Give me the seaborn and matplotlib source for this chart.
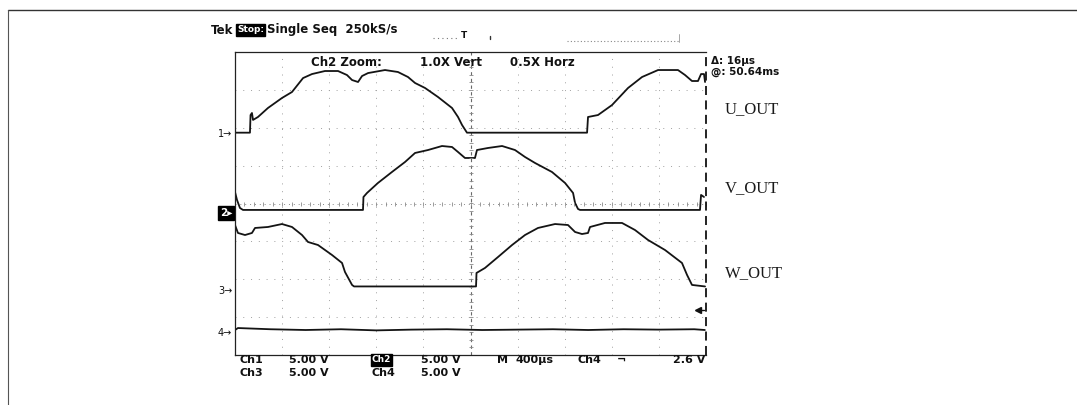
import numpy as np
import pandas as pd
import matplotlib
matplotlib.use("Agg")
import matplotlib.pyplot as plt
import seaborn as sns
from matplotlib.lines import Line2D
from matplotlib.transforms import blended_transform_factory

# ---- scope settings -------------------------------------------------------
US_PER_DIV = 400.0          # M 400us
VOLTS_PER_DIV = 5.0         # 5.00 V/div on all channels
N_HDIV, N_VDIV = 10, 8

# ---- captured waveforms (time in us, amplitude in V) ----------------------
t_u = [0, 127, 132, 144, 153, 195, 280, 399, 484, 578, 654, 764, 875, 951, 994,
       1045, 1079, 1130, 1274, 1384, 1469, 1529, 1614, 1724, 1843, 1894, 1928,
       1970, 2990, 2998, 3083, 3202, 3338, 3457, 3593, 3762, 3822, 3881, 3932,
       3958, 3983, 3992]
v_u = [0, 0, 2.33, 2.6, 1.68, 2.07, 3.26, 4.58, 5.37, 7.21, 7.74, 8.14, 8.14,
       7.61, 6.95, 6.69, 7.48, 7.87, 8.27, 8.01, 7.35, 6.56, 5.90, 4.71, 3.26,
       2.07, 1.02, 0, 0, 2.07, 2.33, 3.65, 5.90, 7.35, 8.27, 8.27, 7.61, 6.82,
       6.82, 7.74, 7.74, 6.69]

t_v = [0, 17, 42, 68, 1087, 1091, 1121, 1214, 1333, 1444, 1529, 1639, 1758,
       1843, 1894, 1953, 2038, 2055, 2149, 2268, 2378, 2463, 2548, 2692, 2803,
       2871, 2888, 2913, 2930, 3949, 3958, 3983]
v_v = [2.37, 1.32, 0.26, 0, 0, 1.71, 2.24, 3.56, 5.01, 6.33, 7.52, 7.91, 8.44,
       8.31, 7.65, 6.86, 6.86, 7.91, 8.18, 8.44, 7.91, 6.99, 6.20, 5.01, 3.56,
       2.24, 0.92, 0.13, 0, 0, 1.98, 1.71]

t_w = [0, 25, 85, 144, 170, 280, 399, 484, 569, 620, 705, 824, 909, 934, 994,
       1011, 2047, 2051, 2123, 2234, 2353, 2463, 2573, 2718, 2828, 2888, 2947,
       2998, 3015, 3142, 3287, 3397, 3508, 3652, 3796, 3839, 3881, 3992]
v_w = [8.11, 7.06, 6.79, 7.06, 7.72, 7.85, 8.24, 7.85, 6.79, 5.87, 5.47, 4.15,
       3.10, 1.91, 0.20, 0, 0, 1.78, 2.44, 3.89, 5.47, 6.79, 7.72, 8.24, 8.11,
       7.19, 6.92, 7.06, 7.85, 8.38, 8.38, 7.45, 6.13, 4.81, 3.10, 1.52, 0.20, 0]

t_4 = [0, 25, 300, 600, 900, 1200, 1500, 1800, 2100, 2400, 2700, 3000, 3300,
       3600, 3900, 3990]
v_4 = [0.0, 0.26, 0.1, 0.0, 0.1, -0.05, 0.05, 0.1, 0.0, 0.05, 0.1, 0.0, 0.1,
       0.05, 0.1, 0.0]

channels = ["Ch1", "Ch2", "Ch3", "Ch4"]
trace_names = ["U_OUT", "V_OUT", "W_OUT"]
# channel ground positions on screen (divisions from centre)
ch_offset = {"Ch1": 1.87, "Ch2": -0.17, "Ch3": -2.19, "Ch4": -3.34}
ch_marker = {"Ch1": 1.83, "Ch2": -0.25, "Ch3": -2.31, "Ch4": -3.42}
trig_level_v = 2.6

frames = []
for ch, t, v in zip(channels, [t_u, t_v, t_w, t_4], [v_u, v_v, v_w, v_4]):
    frames.append(pd.DataFrame({"t": t, "volts": v, "channel": ch}))
df = pd.concat(frames, ignore_index=True)
df["div"] = df["channel"].map(ch_offset) + df["volts"] / VOLTS_PER_DIV

# ---- figure ----------------------------------------------------------------
sns.set_theme(style="white")
plt.rcParams["font.family"] = ["DejaVu Sans"]

W, H = 1077, 405
fig = plt.figure(figsize=(W / 100, H / 100), dpi=100)
fig.patch.set_facecolor("white")


def fx(px):
    return px / W


def fy(py):
    return 1 - py / H


L, R, T, B = 235, 706, 52, 355
ax = fig.add_axes([fx(L), fy(B), (R - L) / W, (B - T) / H])
ax.set_facecolor("white")

sns.lineplot(data=df, x="t", y="div", units="channel", estimator=None,
             sort=False, color="#141414", lw=1.3, ax=ax, legend=False)

x_max = US_PER_DIV * N_HDIV
ax.set_xlim(0, x_max)
ax.set_ylim(-N_VDIV / 2, N_VDIV / 2)
ax.set_xticks([])
ax.set_yticks([])
ax.set_xlabel("")
ax.set_ylabel("")

# graticule
for i in range(1, N_HDIV):
    if i == N_HDIV // 2:
        continue
    ax.axvline(i * US_PER_DIV, color="#a0a0a0", lw=0.7, ls=(0, (1, 7)), zorder=0)
for j in range(-3, 4):
    if j == 0:
        continue
    ax.axhline(j, color="#a0a0a0", lw=0.7, ls=(0, (1, 7)), zorder=0)
ax.axvline(x_max / 2, color="#6a6a6a", lw=0.8, ls=(0, (3, 3)), zorder=0)
ax.axhline(0, color="#8a8a8a", lw=0.7, ls=(0, (1, 4)), zorder=0)
mt = np.arange(0, x_max + 1, US_PER_DIV / 5)
ax.plot(mt, np.zeros_like(mt), ls="none", marker="|", ms=3, color="#8a8a8a", mew=0.6)
mv = np.arange(-4, 4.01, 0.2)
ax.plot(np.full_like(mv, x_max / 2), mv, ls="none", marker="_", ms=3,
        color="#8a8a8a", mew=0.6)

for side in ["top", "left", "bottom"]:
    ax.spines[side].set_color("#222222")
    ax.spines[side].set_linewidth(0.9)
ax.spines["right"].set_visible(False)
ax.axvline(x_max, color="#111111", lw=1.3, ls=(0, (5, 3)), clip_on=False)

# trigger level marker (Ch4, 2.6 V)
lvl = ch_offset["Ch4"] + trig_level_v / VOLTS_PER_DIV
ax.plot([3935, 3980], [lvl, lvl], color="#111111", lw=1.0)
ax.plot([3935], [lvl], marker="<", ms=4, color="#111111")

# channel ground markers
trans = blended_transform_factory(ax.transAxes, ax.transData)
for ch in channels:
    num = ch[-1]
    if ch == "Ch2":
        ax.text(-0.006, ch_marker[ch], num + "\u25B8", transform=trans, ha="right",
                va="center", fontsize=7.5, color="white", fontweight="bold",
                bbox=dict(boxstyle="square,pad=0.15", fc="black", ec="black"))
    else:
        ax.text(-0.006, ch_marker[ch], num + "\u2192", transform=trans, ha="right",
                va="center", fontsize=7, color="#111111")

# ---- annotations -----------------------------------------------------------
tek = dict(fontsize=8.5, fontweight="bold", color="#111111", va="center")
small = dict(fontsize=8, fontweight="bold", color="#111111", va="center")
inv = dict(fontsize=6.5, fontweight="bold", color="white", va="center",
           bbox=dict(boxstyle="square,pad=0.12", fc="black", ec="black"))
fig.text(fx(211), fy(30), "Tek", ha="left", **tek)
fig.text(fx(237), fy(30), "Stop:", ha="left", **inv)
fig.text(fx(267), fy(30), "Single Seq  250kS/s", ha="left", **tek)

fig.text(fx(311), fy(62), "Ch2 Zoom:", ha="left", **tek)
fig.text(fx(420), fy(62), "1.0X Vert", ha="left", **tek)
fig.text(fx(510), fy(62), "0.5X Horz", ha="left", **tek)
fig.text(fx(711), fy(61), "\u0394: 16\u00b5s", ha="left", fontsize=7.5,
         fontweight="bold", color="#111111", va="center")
fig.text(fx(711), fy(71.5), "@: 50.64ms", ha="left", fontsize=7.5,
         fontweight="bold", color="#111111", va="center")

# trigger position / record view indicator above the screen
fig.text(fx(464), fy(36), "T", ha="center", fontsize=6.5, fontweight="bold",
         color="#111111", va="center")
fig.add_artist(Line2D([fx(433), fx(458)], [fy(38), fy(38)], color="#777777",
                      lw=0.8, ls=(0, (1, 3))))
fig.add_artist(Line2D([fx(490), fx(490)], [fy(36), fy(39)], color="#333333", lw=1))
fig.add_artist(Line2D([fx(567), fx(679)], [fy(41), fy(41)], color="#888888",
                      lw=0.8, ls=(0, (1, 2))))
fig.add_artist(Line2D([fx(679), fx(679)], [fy(34), fy(42)], color="#999999", lw=0.6))

serif = dict(fontsize=12, family="Liberation Serif", color="#1a1a1a",
             va="center", ha="left")
fig.text(fx(725), fy(109), trace_names[0], **serif)
fig.text(fx(725), fy(188), trace_names[1], **serif)
fig.text(fx(725), fy(273), trace_names[2], **serif)

# bottom readout
fig.text(fx(240), fy(360), "Ch1", ha="left", **small)
fig.text(fx(289), fy(360), "5.00 V", ha="left", **small)
fig.text(fx(372), fy(360), "Ch2", ha="left", **inv)
fig.text(fx(421), fy(360), "5.00 V", ha="left", **small)
fig.text(fx(497), fy(360), "M", ha="left", **small)
fig.text(fx(516), fy(360), "400\u00b5s", ha="left", **small)
fig.text(fx(578), fy(360), "Ch4", ha="left", **small)
fig.text(fx(617), fy(360), "\u00ac", ha="left", **small)
fig.text(fx(705), fy(360), "2.6 V", ha="right", **small)
fig.text(fx(240), fy(372.5), "Ch3", ha="left", **small)
fig.text(fx(289), fy(372.5), "5.00 V", ha="left", **small)
fig.text(fx(372), fy(372.5), "Ch4", ha="left", **small)
fig.text(fx(421), fy(372.5), "5.00 V", ha="left", **small)

# page frame
fig.add_artist(Line2D([fx(8), 1.0], [fy(10), fy(10)], color="#333333", lw=1.0))
fig.add_artist(Line2D([fx(8), fx(8)], [fy(10), 0.0], color="#555555", lw=0.8))

fig.savefig("out.png", dpi=100, facecolor="white")
